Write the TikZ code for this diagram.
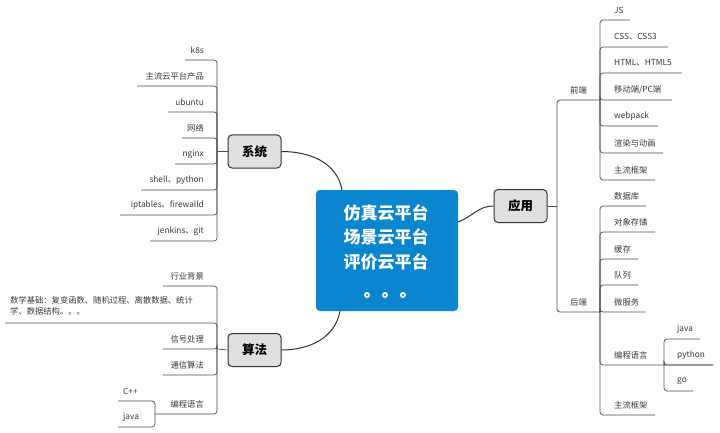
\documentclass[tikz,border=0pt]{standalone}
\usepackage{fontspec}
\setmainfont{Noto Sans CJK SC}
\newfontfamily\cjk{Noto Sans CJK SC}
\definecolor{cblue}{RGB}{10,133,208}
\begin{document}
\begin{tikzpicture}[x=1pt,y=-1pt,
  leaf/.style={font=\cjk\fontsize{8.3}{11}\selectfont, text=black!78, inner sep=0pt},
  br/.style={draw=black!70, line width=0.7pt, rounded corners=3pt},
  topic/.style={draw=black!80, line width=1pt, fill=black!12, rounded corners=4pt, minimum width=53pt, minimum height=33pt, font=\cjk\bfseries\fontsize{12.5}{14}\selectfont},
  link/.style={draw=black!80, line width=1pt}]
\useasboundingbox (0,0) rectangle (720,433);
% central
\node[fill=cblue, rounded corners=4pt, minimum width=142pt, minimum height=121pt, inner sep=0] (c) at (387,250.5) {};
\node[text=white, font=\cjk\bfseries\fontsize{17}{24.5}\selectfont, align=center] (ct) at (386,237) {仿真云平台\\场景云平台\\评价云平台};
\foreach \x/\n in {367/d1,385/d2,403/d3}{
  \node[circle, fill=white, inner sep=0, minimum size=6pt] (\n) at (\x,295) {};
  \fill[cblue] (\n) circle (1.2pt);}
% topics
\node[topic] (sys) at (254.5,151.5) {系统};
\node[topic] (alg) at (254.5,350) {算法};
\node[topic] (app) at (520.5,206) {应用};
\draw[link] (sys.east) to[out=0,in=100] (342,190);
\draw[link] (alg.east) to[out=0,in=-100] (340,311);
\draw[link] (458,222) to[out=20,in=180] (app.west);
% system branch
\draw[br] (sys.west) -- (217,151.5);
\foreach \t/\y/\xl/\n in {k8s/60/185/s1, 主流云平台产品/86/137/s2, ubuntu/112/168/s3, 网络/138/182/s4, nginx/164/175/s5, shell、python/190/141/s6, iptables、firewalld/215/120/s7, jenkins、git/241/150/s8}{
  \node[leaf, anchor=east] (\n) at (204,\y-10) {\t};
  \draw[br] (\xl,\y) -- (217,\y) -- (217,151.5);}
% algorithm branch
\draw[br] (alg.west) -- (217,349);
\foreach \t/\y/\xl/\n in {行业背景/286/163/a1, 信号处理/349/163/a3, 通信算法/375/163/a4, 编程语言/414/155/a5}{
  \node[leaf, anchor=east] (\n) at (204,\y-10) {\t};
  \draw[br] (\xl,\y) -- (217,\y) -- (217,349);}
\node[leaf, anchor=north west, align=left] (a2) at (10,296) {数学基础：复变函数、随机过程、离散数据、统计\\学、数据结构。。。};
\draw[br] (5,323) -- (217,323) -- (217,349);
\node[leaf, anchor=west] (b1) at (123,391) {C++};
\node[leaf, anchor=west] (b2) at (123,417) {java};
\draw[br] (118,401) -- (155,401) -- (155,414);
\draw[br] (118,427) -- (155,427) -- (155,414);
% application branch
\draw[br] (app.east) -- (557,206);
\node[leaf, anchor=west] (fe) at (570,90) {前端};
\node[leaf, anchor=west] (be) at (570,302) {后端};
\draw[br] (600,100) -- (557,100) -- (557,206);
\draw[br] (600,312) -- (557,312) -- (557,206);
\foreach \t/\y/\xr/\n in {JS/20/630/f1, CSS、CSS3/47/668/f2, HTML、HTML5/73/682/f3, {移动端/PC端}/100/672/f4, webpack/126/658/f5, 渲染与动画/153/663/f6, 主流框架/180/655/f7}{
  \node[leaf, anchor=west] (\n) at (614,\y-10) {\t};
  \draw[br] (\xr,\y) -- (600,\y) -- (600,100);}
\foreach \t/\y/\xr/\n in {数据库/206/646/g1, 对象存储/232/655/g2, 缓存/259/638/g3, 队列/285/638/g4, 微服务/312/646/g5, 编程语言/365/713/g6, 主流框架/415/655/g7}{
  \node[leaf, anchor=west] (\n) at (614,\y-10) {\t};
  \draw[br] (\xr,\y) -- (600,\y) -- (600,312);}
\foreach \t/\y/\xr/\n in {java/339/700/h1, python/365/713/h2, go/391/693/h3}{
  \node[leaf, anchor=west] (\n) at (677,\y-10) {\t};
  \draw[br] (\xr,\y) -- (664,\y) -- (664,365);}
\end{tikzpicture}
\end{document}
